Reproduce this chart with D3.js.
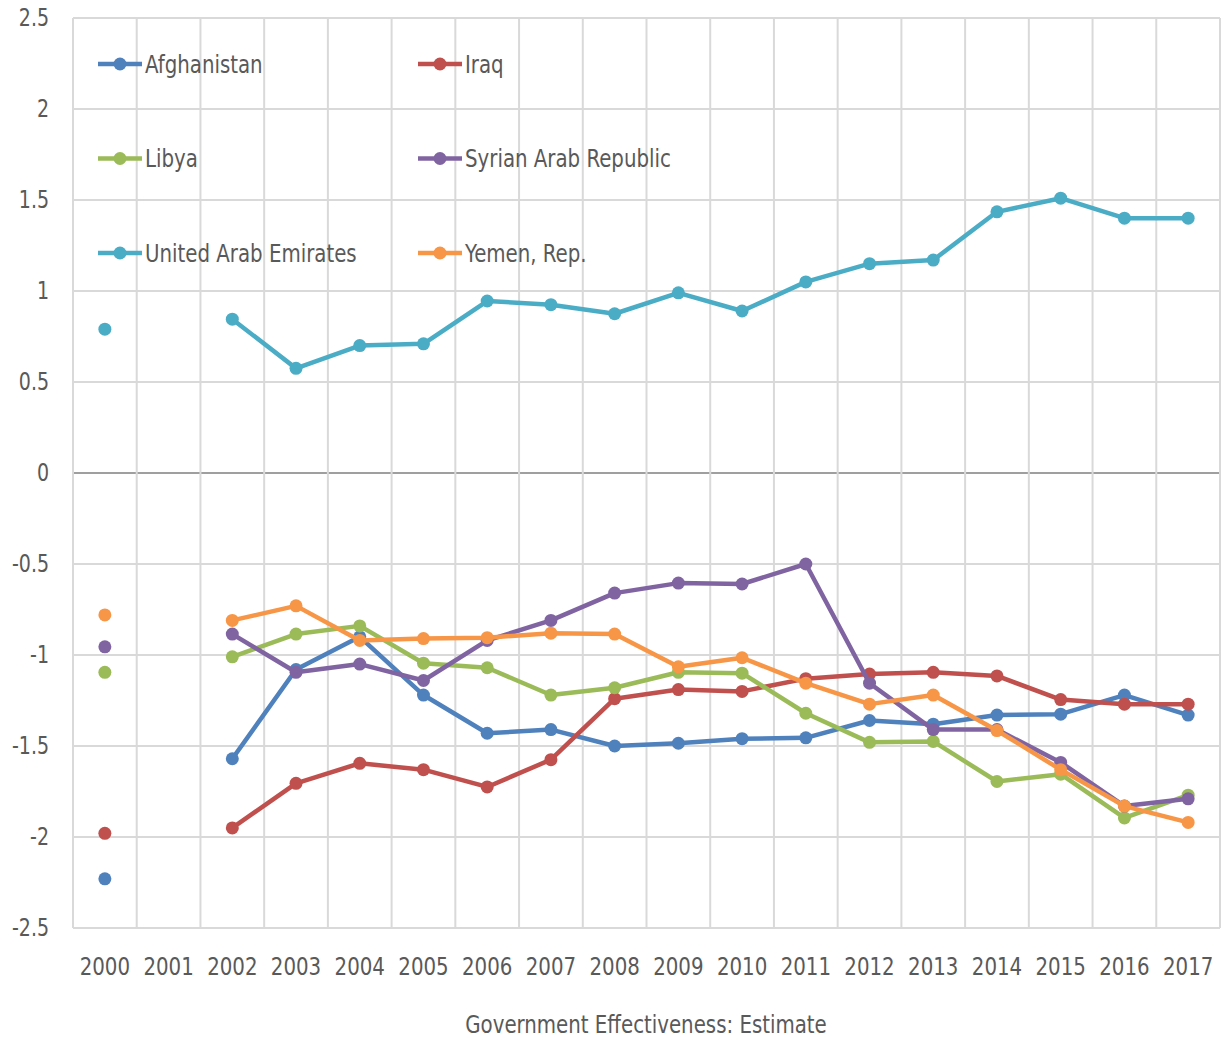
<!DOCTYPE html>
<html>
<head>
<meta charset="utf-8">
<script src="https://cdn.jsdelivr.net/npm/d3@7"></script>
<style>
  body { margin: 0; background: #fff; }
  text { font-family: "Liberation Sans Narrow", "DejaVu Sans Condensed", "Open Sans", sans-serif; fill: #595959; }
</style>
</head>
<body>
<div id="chart"></div>
<script>
// years on the category axis
var years = ["2000","2001","2002","2003","2004","2005","2006","2007","2008","2009",
             "2010","2011","2012","2013","2014","2015","2016","2017"];

// Government Effectiveness: Estimate (null = no data)
var afghanistan = [-2.23, null, -1.57, -1.08, -0.90, -1.22, -1.43, -1.41, -1.50, -1.485, -1.46, -1.455, -1.36, -1.38, -1.33, -1.325, -1.22, -1.33];
var iraq        = [-1.98, null, -1.95, -1.705, -1.595, -1.63, -1.725, -1.575, -1.24, -1.19, -1.20, -1.13, -1.105, -1.095, -1.115, -1.245, -1.27, -1.27];
var libya       = [-1.095, null, -1.01, -0.885, -0.84, -1.045, -1.07, -1.22, -1.18, -1.095, -1.10, -1.32, -1.48, -1.475, -1.695, -1.655, -1.895, -1.77];
var syria       = [-0.955, null, -0.885, -1.095, -1.05, -1.14, -0.92, -0.81, -0.66, -0.605, -0.61, -0.50, -1.155, -1.41, -1.41, -1.59, -1.83, -1.79];
var uae         = [0.79, null, 0.845, 0.575, 0.70, 0.71, 0.945, 0.925, 0.875, 0.99, 0.89, 1.05, 1.15, 1.17, 1.435, 1.51, 1.40, 1.40];
var yemen       = [-0.78, null, -0.81, -0.73, -0.92, -0.91, -0.905, -0.88, -0.885, -1.065, -1.015, -1.155, -1.27, -1.22, -1.415, -1.63, -1.83, -1.92];

var names  = ["Afghanistan", "Iraq", "Libya", "Syrian Arab Republic", "United Arab Emirates", "Yemen, Rep."];
var colors = ["#4F81BD", "#C0504D", "#9BBB59", "#8064A2", "#4BACC6", "#F79646"];
var yTicks = [2.5, 2, 1.5, 1, 0.5, 0, -0.5, -1, -1.5, -2, -2.5];

var series = [afghanistan, iraq, libya, syria, uae, yemen];

var width = 1222, height = 1039;
var margin = {top: 18, right: 2, bottom: 111, left: 73};
var squeeze = 0.88; // text in the picture is horizontally narrow

var svg = d3.select("#chart").append("svg")
    .attr("width", width)
    .attr("height", height);

var x = d3.scaleBand()
    .domain(years)
    .range([margin.left, width - margin.right]);

var y = d3.scaleLinear()
    .domain([-2.5, 2.5])
    .range([height - margin.bottom, margin.top]);

function place(px, py){
    return "translate(" + px + "," + py + ") scale(" + squeeze + ",1)";
}

// horizontal grid
svg.append("g").selectAll("line")
    .data(yTicks)
    .enter().append("line")
    .attr("x1", margin.left)
    .attr("x2", width - margin.right)
    .attr("y1", function(d){ return y(d); })
    .attr("y2", function(d){ return y(d); })
    .attr("stroke", function(d){ return d === 0 ? "#7f7f7f" : "#d9d9d9"; })
    .attr("stroke-width", function(d){ return d === 0 ? 1.5 : 2; });

// vertical grid at category boundaries
var bounds = years.map(function(d){ return x(d); }).concat([x(years[years.length-1]) + x.bandwidth()]);
svg.append("g").selectAll("line")
    .data(bounds)
    .enter().append("line")
    .attr("x1", function(d){ return d; })
    .attr("x2", function(d){ return d; })
    .attr("y1", y(2.5))
    .attr("y2", y(-2.5))
    .attr("stroke", "#d9d9d9")
    .attr("stroke-width", 2);

// y labels
svg.append("g").selectAll("text")
    .data(yTicks)
    .enter().append("text")
    .attr("transform", function(d){ return place(49, y(d)); })
    .attr("dy", "0.35em")
    .attr("text-anchor", "end")
    .style("font-size", "24px")
    .text(function(d){ return d; });

// x labels
svg.append("g").selectAll("text")
    .data(years)
    .enter().append("text")
    .attr("transform", function(d){ return place(x(d) + x.bandwidth()/2, 975); })
    .attr("text-anchor", "middle")
    .style("font-size", "25px")
    .text(function(d){ return d; });

svg.append("text")
    .attr("transform", place(646, 1033))
    .attr("text-anchor", "middle")
    .style("font-size", "25px")
    .text("Government Effectiveness: Estimate");

var line = d3.line()
    .defined(function(d){ return d != null; })
    .x(function(d, i){ return x(years[i]) + x.bandwidth()/2; })
    .y(function(d){ return y(d); });

series.forEach(function(s, k){
    var g = svg.append("g");
    g.append("path")
        .datum(s)
        .attr("d", line)
        .attr("fill", "none")
        .attr("stroke", colors[k])
        .attr("stroke-width", 4.5)
        .attr("stroke-linejoin", "round");
    g.selectAll("circle")
        .data(s.map(function(v, i){ return {v: v, i: i}; }).filter(function(d){ return d.v != null; }))
        .enter().append("circle")
        .attr("cx", function(d){ return x(years[d.i]) + x.bandwidth()/2; })
        .attr("cy", function(d){ return y(d.v); })
        .attr("r", 6.5)
        .attr("fill", colors[k]);
});

// legend, two columns
var legend = svg.append("g").selectAll("g")
    .data(names)
    .enter().append("g")
    .attr("transform", function(d, i){
        return "translate(" + (i % 2 === 0 ? 98 : 418) + "," + (64 + Math.floor(i/2) * 94.5) + ")";
    });
legend.append("line")
    .attr("x1", 0).attr("x2", 44)
    .attr("stroke", function(d, i){ return colors[i]; })
    .attr("stroke-width", 4.5);
legend.append("circle")
    .attr("cx", 22).attr("r", 6.5)
    .attr("fill", function(d, i){ return colors[i]; });
legend.append("text")
    .attr("transform", place(47, 0))
    .attr("dy", "0.35em")
    .style("font-size", "25px")
    .text(function(d){ return d; });
</script>
</body>
</html>
